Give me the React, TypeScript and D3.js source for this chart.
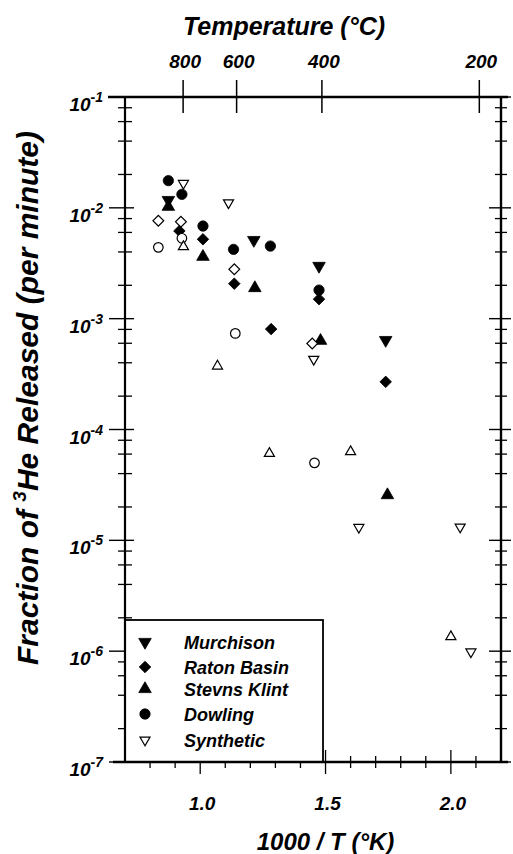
import React from 'react';
import * as d3 from 'd3';

// 1000/T (K) vs fraction of 3He released per minute
const murchison = [[0.873, 0.01175], [1.214, 0.00512], [1.474, 0.00299], [1.74, 0.000641]];
const ratonBasin = [[0.917, 0.00618], [1.011, 0.0052], [1.136, 0.00207], [1.283, 0.000805], [1.474, 0.0015], [1.74, 0.000269]];
const stevnsKlint = [[0.873, 0.01023], [1.011, 0.00362], [1.218, 0.00189], [1.48, 0.000632], [1.747, 2.56e-5]];
const dowling = [[0.873, 0.0176], [0.927, 0.01324], [1.011, 0.00685], [1.133, 0.00422], [1.28, 0.00452], [1.474, 0.00181]];
const synthetic = [[0.933, 0.01663], [1.113, 0.01111], [1.453, 0.00043], [1.633, 1.31e-5], [2.037, 1.32e-5], [2.08, 9.86e-7]];
// open symbols without legend entries
const openDiamond = [[0.833, 0.00766], [0.923, 0.0075], [1.136, 0.00279], [1.447, 0.000598]];
const openCircle = [[0.833, 0.0044], [0.927, 0.00531], [1.14, 0.000736], [1.456, 5.0e-5]];
const openTriangle = [[0.933, 0.00446], [1.069, 0.000373], [1.276, 6.08e-5], [1.6, 6.3e-5], [2.0, 1.35e-6]];

const tempTicks = [800, 600, 400, 200];
const xTickLabels = [1.0, 1.5, 2.0];
const yDecades = [-1, -2, -3, -4, -5, -6, -7];

const series = [
  { name: 'Murchison', data: murchison, shape: 'down', filled: true, legend: true },
  { name: 'Raton Basin', data: ratonBasin, shape: 'diamond', filled: true, legend: true },
  { name: 'Stevns Klint', data: stevnsKlint, shape: 'up', filled: true, legend: true },
  { name: 'Dowling', data: dowling, shape: 'circle', filled: true, legend: true },
  { name: 'Synthetic', data: synthetic, shape: 'down', filled: false, legend: true },
  { name: 'open diamond', data: openDiamond, shape: 'diamond', filled: false, legend: false },
  { name: 'open circle', data: openCircle, shape: 'circle', filled: false, legend: false },
  { name: 'open triangle', data: openTriangle, shape: 'up', filled: false, legend: false },
];

const FONT = '"Liberation Sans", Arial, Helvetica, sans-serif';

const left = 125, right = 501, top = 97, bottom = 762;

const x = d3.scaleLinear().domain([0.7, 2.2]).range([left, right]);
const y = d3.scaleLog().domain([1e-7, 1e-1]).range([bottom, top]);

function symbolPath(shape: string, filled: boolean) {
  if (shape === 'circle') return d3.symbol(d3.symbolCircle, filled ? 84 : 72)();
  if (shape === 'diamond') return d3.symbol(d3.symbolSquare, filled ? 66 : 58)();
  return d3.symbol(d3.symbolTriangle, filled ? 68 : 44)();
}

function Marker({ shape, filled, cx, cy }: any) {
  const rot = shape === 'down' ? 180 : shape === 'diamond' ? 45 : 0;
  return (
    <path
      d={symbolPath(shape, filled) as string}
      transform={`translate(${cx},${cy}) rotate(${rot})`}
      fill={filled ? '#000' : '#fff'}
      stroke="#000"
      strokeWidth={filled ? 0.8 : 1.2}
    />
  );
}

export default function App() {
  const minor = y.ticks().filter((t) => {
    const m = Math.round(t / Math.pow(10, Math.floor(Math.log10(t) + 1e-9)));
    return [2, 4, 6, 8].includes(m);
  });
  const xTicks = d3.range(8, 22).map((d) => d / 10);
  const tempX = (c: number) => x(1000 / (c + 273.15));

  const legendSeries = series.filter((s) => s.legend);

  return (
    <svg width={513} height={854} style={{ position: 'absolute', left: 0, top: 0, background: '#fff' }}
      fontFamily={FONT} fontWeight="bold" fontStyle="italic">
      <rect width={513} height={854} fill="#fff" />

      {/* frame */}
      <line x1={108} x2={508} y1={top} y2={top} stroke="#000" strokeWidth={2.4} />
      <line x1={right} x2={right} y1={top} y2={bottom} stroke="#000" strokeWidth={2.4} />

      {/* y ticks, both sides */}
      {yDecades.map((e) => (
        <g key={e}>
          <line x1={left - 16} x2={left + 9} y1={y(Math.pow(10, e))} y2={y(Math.pow(10, e))} stroke="#000" strokeWidth={1.4} />
          <line x1={right - 12} x2={right + 10} y1={y(Math.pow(10, e))} y2={y(Math.pow(10, e))} stroke="#000" strokeWidth={1.4} />
          <text x={103} y={y(Math.pow(10, e)) + 14} textAnchor="end" fontSize={19}>
            10<tspan fontSize={14} dy={-9}>{`-${-e}`}</tspan>
          </text>
        </g>
      ))}
      {minor.map((t, i) => (
        <g key={i}>
          <line x1={left - 7} x2={left + 7} y1={y(t)} y2={y(t)} stroke="#000" strokeWidth={1.3} />
          <line x1={right - 6} x2={right + 6} y1={y(t)} y2={y(t)} stroke="#000" strokeWidth={1.3} />
        </g>
      ))}

      {/* bottom ticks */}
      {xTicks.map((t) => {
        const major = xTickLabels.some((v) => Math.abs(v - t) < 1e-6);
        return (
          <line key={t} x1={x(t)} x2={x(t)} y1={bottom - (major ? 12 : 6)} y2={bottom + (major ? 12 : 6)} stroke="#000" strokeWidth={1.3} />
        );
      })}
      {xTickLabels.map((t) => (
        <text key={t} x={x(t) + 2} y={810} textAnchor="middle" fontSize={19}>{t.toFixed(1)}</text>
      ))}
      <text x={x(1.5)} y={850} textAnchor="middle" fontSize={24}>1000 / T (°K)</text>

      {/* top temperature axis */}
      {tempTicks.map((c) => (
        <g key={c}>
          <line x1={tempX(c)} x2={tempX(c)} y1={top - 17} y2={top + 16} stroke="#000" strokeWidth={1.5} />
          <text x={tempX(c) + 2} y={68} textAnchor="middle" fontSize={19}>{c}</text>
        </g>
      ))}
      <text x={284} y={35} textAnchor="middle" fontSize={25}>Temperature (°C)</text>

      {/* y label */}
      <text transform="translate(38,398) rotate(-90)" textAnchor="middle" fontSize={30}>
        Fraction of <tspan fontSize={19} dy={-12}>3</tspan><tspan dy={12}>He Released (per minute)</tspan>
      </text>

      {/* points */}
      {series.map((s) =>
        s.data.map((d, i) => (
          <Marker key={s.name + i} shape={s.shape} filled={s.filled} cx={x(d[0])} cy={y(d[1])} />
        ))
      )}

      {/* legend */}
      <rect x={left} y={620} width={198} height={bottom - 620} fill="#fff" stroke="#000" strokeWidth={1.8} />
      {legendSeries.map((s, i) => {
        const ly = [642, 667, 689, 714, 740][i];
        return (
          <g key={s.name}>
            <Marker shape={s.shape} filled={s.filled} cx={145} cy={ly} />
            <text x={184} y={ly + 7} fontSize={18}>{s.name}</text>
          </g>
        );
      })}
      <line x1={left} x2={left} y1={top} y2={bottom} stroke="#000" strokeWidth={2.2} />
      <line x1={113} x2={508} y1={bottom} y2={bottom} stroke="#000" strokeWidth={2.6} />
    </svg>
  );
}
